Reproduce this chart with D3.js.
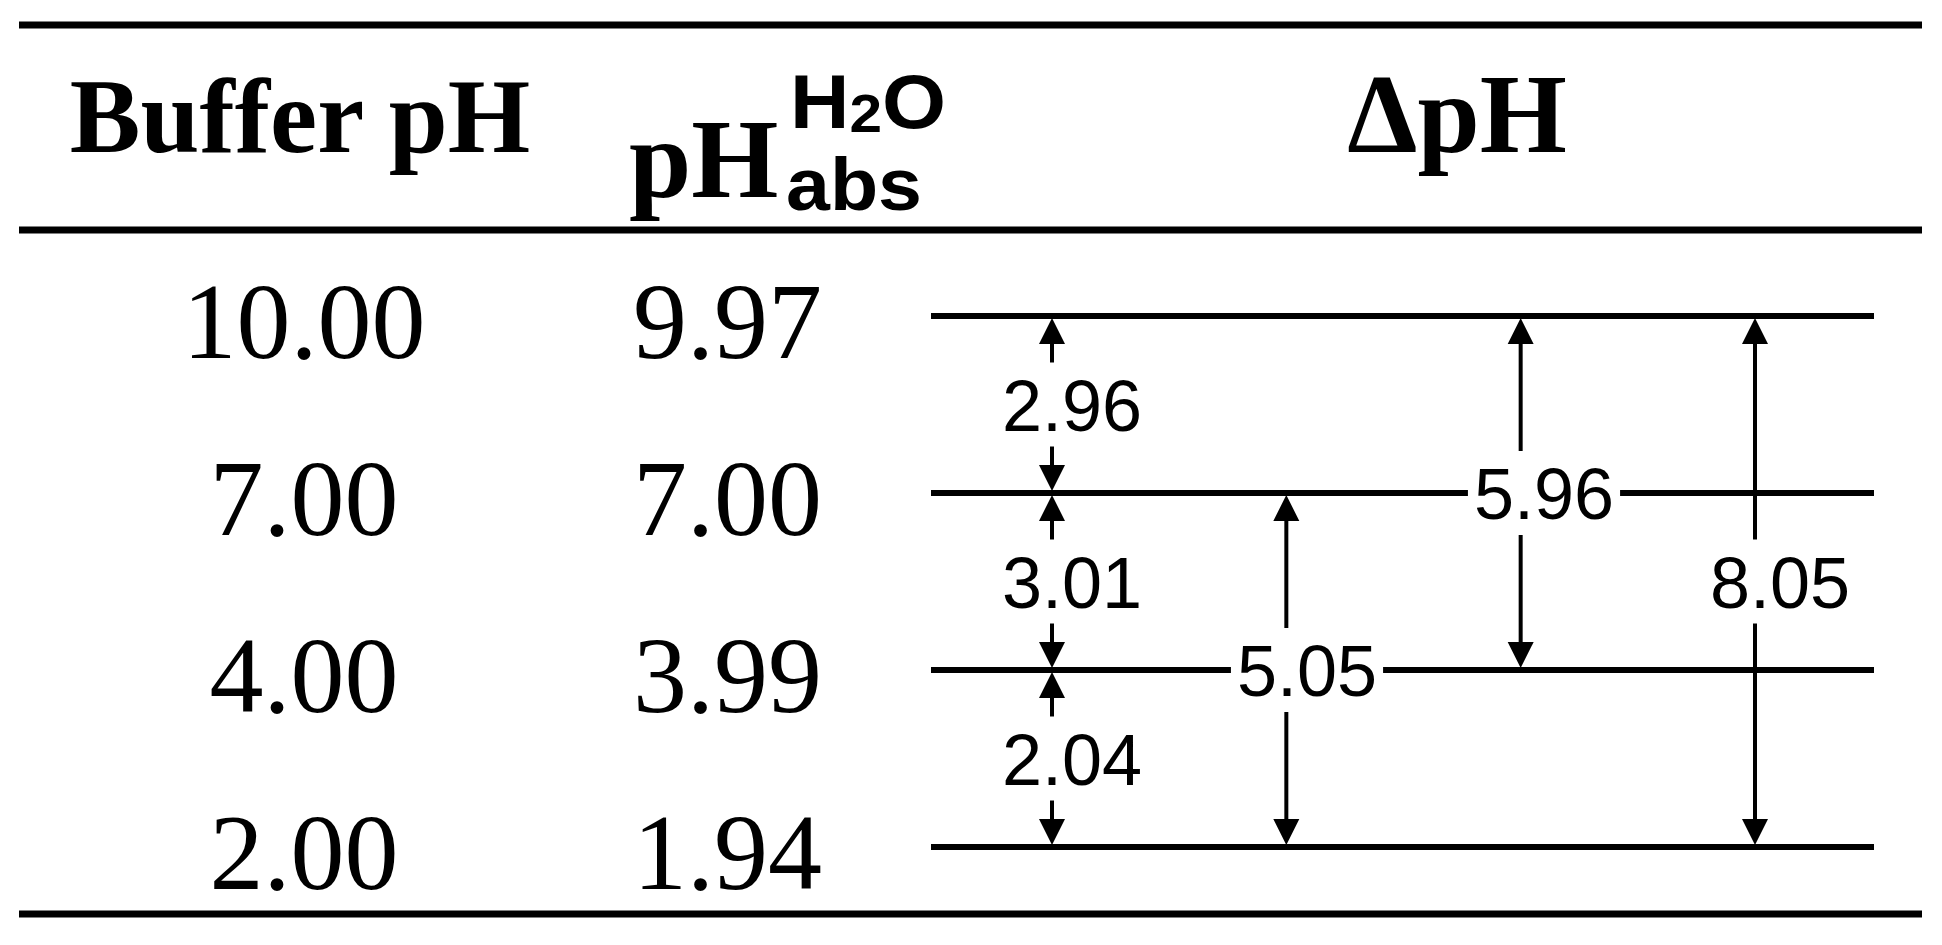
<!DOCTYPE html>
<html><head><meta charset="utf-8">
<script src="https://cdn.jsdelivr.net/npm/d3@7"></script>
<style>body{margin:0;background:#fff}</style></head>
<body><svg id="c" width="1942" height="945"></svg>
<script>
const bufferPH = ["10.00","7.00","4.00","2.00"];
const absPH = ["9.97","7.00","3.99","1.94"];
// arrows: [from level index, to level index, label]
const arrowsFrom = [0,1,2,1,0,0];
const arrowsTo   = [1,2,3,3,2,3];
const arrowLabels = ["2.96","3.01","2.04","5.05","5.96","8.05"];
const arrowCols = [0,0,0,1,2,3];
const labelLevels = [0.5,1.5,2.5,2,1,1.5];

const svg = d3.select("#c");
const y = d3.scalePoint().domain(d3.range(4)).range([316,847]);
const xc = d3.scalePoint().domain(d3.range(4)).range([1052,1755]);
const labelX = d3.scaleOrdinal().domain(d3.range(4)).range([1072,1307,1544,1780]);

function hline(y0,x1,x2,w){svg.append("line").attr("x1",x1).attr("x2",x2).attr("y1",y0).attr("y2",y0).attr("stroke","#000").attr("stroke-width",w);}
hline(25,19,1922,7); hline(230,19,1922,7); hline(914,19,1922,7);

const serif = "'Liberation Serif','Times New Roman',serif";
const sans = "'Liberation Sans',Arial,sans-serif";
svg.append("text").attr("x",300).attr("y",152).attr("text-anchor","middle").attr("font-family",serif).attr("font-weight","bold").attr("font-size",106).text("Buffer pH");
svg.append("text").attr("x",629).attr("y",197).attr("font-family",serif).attr("font-weight","bold").attr("font-size",112).text("pH");
svg.append("text").attr("x",786).attr("y",210).attr("font-family",sans).attr("font-weight","bold").attr("font-size",74).attr("textLength",136).attr("lengthAdjust","spacingAndGlyphs").text("abs");
const sup = svg.append("text").attr("x",790).attr("y",128).attr("font-family",sans).attr("font-weight","bold").attr("font-size",76).attr("textLength",156).attr("lengthAdjust","spacingAndGlyphs");
sup.append("tspan").text("H");
sup.append("tspan").attr("font-size",54).attr("dy",4).text("2");
sup.append("tspan").attr("dy",-4).text("O");
svg.append("text").attr("x",1457).attr("y",152).attr("text-anchor","middle").attr("font-family",serif).attr("font-weight","bold").attr("font-size",112).text("ΔpH");

svg.selectAll(".b").data(bufferPH).join("text").attr("x",304).attr("y",(d,i)=>y(i)+42).attr("text-anchor","middle").attr("font-family",serif).attr("font-size",108).text(d=>d);
svg.selectAll(".a").data(absPH).join("text").attr("x",822).attr("y",(d,i)=>y(i)+42).attr("text-anchor","end").attr("font-family",serif).attr("font-size",108).text(d=>d);

d3.range(4).forEach(i=>hline(y(i),931,1874,6));

const hw=13, hl=22;
arrowLabels.forEach((lab,k)=>{
  const x=xc(arrowCols[k]), y1=y(arrowsFrom[k]), y2=y(arrowsTo[k]);
  svg.append("line").attr("x1",x).attr("x2",x).attr("y1",y1+hl).attr("y2",y2-hl).attr("stroke","#000").attr("stroke-width",4);
  svg.append("path").attr("d",`M${x},${y1+2}L${x-hw},${y1+hl+6}L${x+hw},${y1+hl+6}Z`);
  svg.append("path").attr("d",`M${x},${y2-2}L${x-hw},${y2-hl-6}L${x+hw},${y2-hl-6}Z`);
});
arrowLabels.forEach((lab,k)=>{
  const lv = labelLevels[k];
  const yy = y(0)+(y(1)-y(0))*lv;
  const x = labelX(arrowCols[k]);
  const g = svg.append("g");
  const r = g.append("rect").attr("fill","#fff");
  const t = g.append("text").attr("x",x).attr("y",yy+26).attr("text-anchor","middle").attr("font-family",sans).attr("font-size",72).text(lab);
  const b = t.node().getBBox();
  r.attr("x",b.x-6).attr("y",yy-42).attr("width",b.width+12).attr("height",84);
});
</script></body></html>
